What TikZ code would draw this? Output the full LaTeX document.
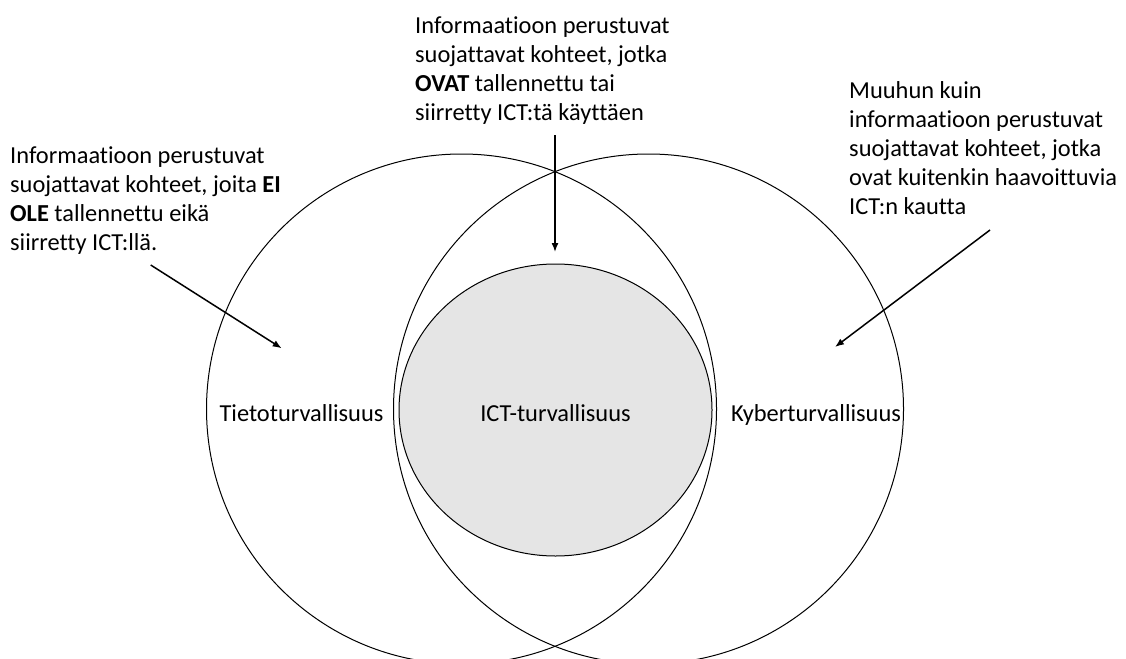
\documentclass[tikz,border=0pt]{standalone}
\usepackage{fontspec}
\setmainfont{Carlito}[Ligatures={NoCommon}]
\usetikzlibrary{arrows.meta}
\definecolor{innerfill}{RGB}{229,229,229}
\begin{document}
\begin{tikzpicture}[x=1pt,y=-1pt,
  lbl/.style={inner sep=0pt, font=\fontsize{24.4}{29}\selectfont},
  note/.style={lbl, anchor=base west},
  ring/.style={draw=black, line width=1pt},
  pointer/.style={draw=black, line width=1.5pt, -{Latex[length=9pt,width=7pt]}}
]
\useasboundingbox[fill=white] (0,0) rectangle (1126,658);

% inner ellipse
\draw[ring, fill=innerfill] (555.5,410) ellipse [x radius=156.5pt, y radius=146pt];
% two large circles
\draw[ring] (461.5,409) circle [radius=255pt];
\draw[ring] (648.5,409) circle [radius=255pt];

% labels
\node[lbl, anchor=base] (tieto) at (301.5,421.7) {Tietoturvallisuus};
\node[lbl, anchor=base] (ict) at (555.5,421.7) {ICT-turvallisuus};
\node[lbl, anchor=base] (kyber) at (816,421.7) {Kyberturvallisuus};

% notes
\node[note] (lefttext) at (10,163.3) {\begin{tabular}[t]{@{}l@{}}Informaatioon perustuvat\\ suojattavat kohteet, joita \textbf{EI}\\ \textbf{OLE} tallennettu eikä\\ siirretty ICT:llä.\end{tabular}};
\node[note] (toptext) at (415,33.3) {\begin{tabular}[t]{@{}l@{}}Informaatioon perustuvat\\ suojattavat kohteet, jotka\\ \textbf{OVAT} tallennettu tai\\ siirretty ICT:tä käyttäen\end{tabular}};
\node[note] (righttext) at (849,98.3) {\begin{tabular}[t]{@{}l@{}}Muuhun kuin\\ informaatioon perustuvat\\ suojattavat kohteet, jotka\\ ovat kuitenkin haavoittuvia\\ ICT:n kautta\end{tabular}};

% arrows
\coordinate (la) at (150.7,265);
\coordinate (lt) at (281.7,348.3);
\coordinate (ta) at (555,135);
\coordinate (tt) at (555,252);
\coordinate (ra) at (990,230);
\coordinate (rt) at (835,347);
\draw[pointer] (la) -- (lt);
\draw[pointer] (ta) -- (tt);
\draw[pointer] (ra) -- (rt);
\end{tikzpicture}
\end{document}
